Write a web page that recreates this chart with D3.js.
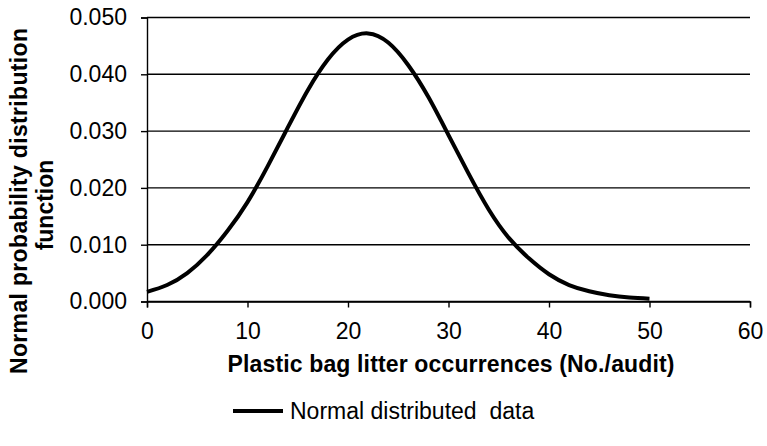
<!DOCTYPE html>
<html>
<head>
<meta charset="utf-8">
<script src="https://cdn.jsdelivr.net/npm/d3@7"></script>
<style>
  body { margin: 0; background: #fff; }
  svg { display: block; font-family: "Liberation Sans", Arial, sans-serif; }
</style>
</head>
<body>
<svg id="chart" width="767" height="446"></svg>
<script>
// Values
var occurrences = [0, 2, 4, 6, 8, 10, 12, 14, 16, 18, 20, 22, 24, 26, 28, 30, 32, 34, 36, 38, 40, 42, 44, 46, 48, 50];
var pdfValues = [0.0017, 0.0029, 0.0050, 0.0082, 0.0124, 0.0175, 0.0238, 0.0306, 0.0372, 0.0426, 0.0461, 0.0472,
                 0.0456, 0.0416, 0.0360, 0.0293, 0.0225, 0.0162, 0.0112, 0.0076, 0.0048, 0.0029, 0.0018, 0.0011, 0.0007, 0.0005];
var xTicks = [0, 10, 20, 30, 40, 50, 60];
var yTicks = [0, 0.01, 0.02, 0.03, 0.04, 0.05];

var svg = d3.select("svg");

var x = d3.scaleLinear().domain([0, 60]).range([147, 750]);
var y = d3.scaleLinear().domain([0, 0.05]).range([301.5, 17.5]);

// horizontal gridlines
svg.append("g")
  .selectAll("line")
  .data(yTicks)
  .enter().append("line")
    .attr("x1", x(0))
    .attr("x2", x(60))
    .attr("y1", function(d) { return y(d); })
    .attr("y2", function(d) { return y(d); })
    .attr("stroke", "#000")
    .attr("stroke-width", 1.4);

// y axis
var yAxis = svg.append("g")
    .attr("transform", "translate(" + x(0) + ",0)")
    .call(d3.axisLeft(y).tickValues(yTicks).tickFormat(d3.format(".3f")).tickSize(6).tickPadding(14));
yAxis.select(".domain").attr("stroke", "#000").attr("stroke-width", 1.4);
yAxis.selectAll(".tick line").attr("stroke", "#000").attr("stroke-width", 1.4);
yAxis.selectAll("text")
    .attr("font-size", 23)
    .attr("font-family", "Liberation Sans, Arial, sans-serif")
    .attr("fill", "#000");

// x axis
var xAxis = svg.append("g")
    .attr("transform", "translate(0," + y(0) + ")")
    .call(d3.axisBottom(x).tickValues(xTicks).tickSize(6).tickPadding(15));
xAxis.select(".domain").attr("stroke", "#000").attr("stroke-width", 1.4);
xAxis.selectAll(".tick line").attr("stroke", "#000").attr("stroke-width", 1.4);
xAxis.selectAll("text")
    .attr("font-size", 23)
    .attr("font-family", "Liberation Sans, Arial, sans-serif")
    .attr("fill", "#000");

// the curve
var line = d3.line()
    .x(function(d, i) { return x(occurrences[i]); })
    .y(function(d) { return y(d); })
    .curve(d3.curveNatural);

svg.append("path")
    .datum(pdfValues)
    .attr("d", line)
    .attr("fill", "none")
    .attr("stroke", "#000")
    .attr("stroke-width", 4);

// axis titles
svg.append("text")
    .attr("x", 451)
    .attr("y", 372)
    .attr("text-anchor", "middle")
    .attr("font-size", 23)
    .attr("font-weight", "bold")
    .attr("textLength", 447)
    .text("Plastic bag litter occurrences (No./audit)");

svg.append("text")
    .attr("transform", "translate(27,201) rotate(-90)")
    .attr("text-anchor", "middle")
    .attr("font-size", 23)
    .attr("font-weight", "bold")
    .attr("textLength", 346)
    .text("Normal probability distribution");

svg.append("text")
    .attr("transform", "translate(53,205) rotate(-90)")
    .attr("text-anchor", "middle")
    .attr("font-size", 23)
    .attr("font-weight", "bold")
    .text("function");

// legend
var legend = svg.append("g").attr("transform", "translate(233,411)");
legend.append("line")
    .attr("x1", 0).attr("x2", 50)
    .attr("y1", 0).attr("y2", 0)
    .attr("stroke", "#000")
    .attr("stroke-width", 4);
legend.append("text")
    .attr("x", 57)
    .attr("y", 8)
    .attr("font-size", 23)
    .attr("xml:space", "preserve")
    .text("Normal distributed  data");
</script>
</body>
</html>
